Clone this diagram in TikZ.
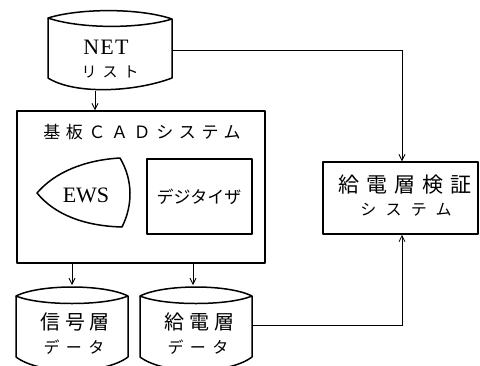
\documentclass[tikz,border=0pt]{standalone}
\usepackage{fontspec}
\setmainfont{Liberation Serif}
\newfontfamily\cjk{Noto Sans CJK JP}
\usetikzlibrary{arrows.meta}
\newcommand{\fs}[1]{\fontsize{#1}{#1}\selectfont}
\begin{document}
\begin{tikzpicture}[x=1pt,y=-1pt,
  shapeline/.style={line width=1.5pt,line join=round},
  conn/.style={line width=0.8pt,-{Straight Barb[length=6pt,width=6pt]}},
  plain/.style={line width=0.8pt},
  txt/.style={inner sep=0pt,anchor=center}]
\useasboundingbox (0,0) rectangle (480,365);
\begin{scope}
\clip (0,0) rectangle (480,365);
% NET list
\draw[shapeline] (48,18) .. controls (80,8) and (140,8) .. (172,19)
  .. controls (140,29) and (80,29) .. (48,18) -- cycle;
\draw[shapeline] (48,18) -- (48,78) .. controls (75,95) and (135,92) .. (172,78) -- (172,19);
\coordinate (netb) at (95,91);
\coordinate (netr) at (172,50);
\node[txt] (net1) at (106,47) {\fs{22}\addfontfeature{LetterSpace=6}NET};
\node[txt] (net2) at (110,72) {\cjk\fs{15}\addfontfeature{LetterSpace=40}リスト};
% CAD system
\node[draw,shapeline,minimum width=248pt,minimum height=152pt,inner sep=0pt] (cad) at (141,187) {};
\node[txt] (cadt) at (142,132) {\cjk\fs{17}\addfontfeature{LetterSpace=33}基板ＣＡＤシステム};
% EWS
\draw[shapeline] (37,193) .. controls (55,172) and (85,160) .. (120,158)
  .. controls (133,180) and (133,205) .. (122,227)
  .. controls (85,226) and (55,215) .. (37,193) -- cycle;
\node[txt] (ews) at (86,195) {\fs{22}EWS};
% digitizer
\node[draw,shapeline,minimum width=105pt,minimum height=75pt,inner sep=0pt] (dig) at (199.5,196.5) {};
\node[txt] (digt) at (199,197) {\cjk\fs{17}デジタイザ};
% signal layer cylinder
\draw[shapeline] (16,296) .. controls (40,284) and (104,284) .. (128,296)
  .. controls (104,306) and (40,306) .. (16,296) -- cycle;
\draw[shapeline] (16,296) -- (16,357) .. controls (40,375) and (104,375) .. (128,357) -- (128,296);
\coordinate (sigt) at (72,285);
\node[txt] (sig1) at (75,322) {\cjk\fs{20}\addfontfeature{LetterSpace=25}信号層};
\node[txt] (sig2) at (74,347) {\cjk\fs{16}\addfontfeature{LetterSpace=40}データ};
% power layer cylinder
\draw[shapeline] (140,296) .. controls (164,284) and (228,284) .. (252,296)
  .. controls (228,306) and (164,306) .. (140,296) -- cycle;
\draw[shapeline] (140,296) -- (140,357) .. controls (164,375) and (228,375) .. (252,357) -- (252,296);
\coordinate (powt) at (193,285);
\coordinate (powr) at (252,325);
\node[txt] (pow1) at (199,322) {\cjk\fs{20}\addfontfeature{LetterSpace=25}給電層};
\node[txt] (pow2) at (198,347) {\cjk\fs{16}\addfontfeature{LetterSpace=40}データ};
% verification system
\node[draw,shapeline,minimum width=155pt,minimum height=72pt,inner sep=0pt] (ver) at (400.5,198) {};
\node[txt] (ver1) at (405,185) {\cjk\fs{21}\addfontfeature{LetterSpace=33}給電層検証};
\node[txt] (ver2) at (406,210) {\cjk\fs{16}\addfontfeature{LetterSpace=58}システム};
% connectors
\draw[conn] (netb) -- (netb |- cad.north);
\draw[conn] (cad.south -| sigt) -- (sigt);
\draw[conn] (cad.south -| powt) -- (powt);
\coordinate (c1) at (402,50);
\coordinate (c2) at (402,325);
\draw[conn] (netr) -- (c1) -- (c1 |- ver.north);
\draw[conn] (powr) -- (c2) -- (c2 |- ver.south);
\end{scope}
\end{tikzpicture}
\end{document}
